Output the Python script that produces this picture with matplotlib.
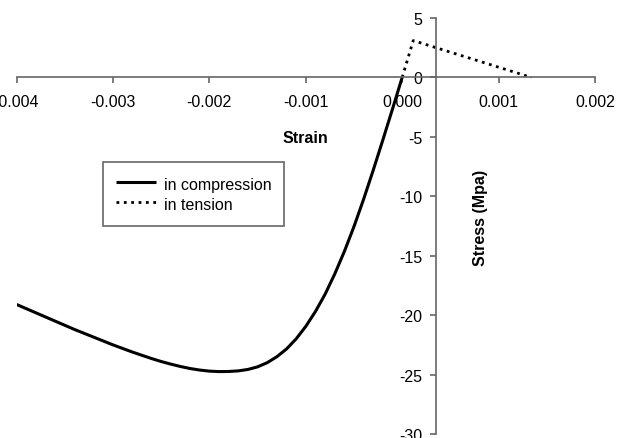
import matplotlib
matplotlib.use('Agg')
import matplotlib.pyplot as plt

# Datos: curva tensión-deformación del hormigón
strain_comp = [-0.0040, -0.0038, -0.0036, -0.0034, -0.0032, -0.0030, -0.0028,
               -0.0026, -0.0025, -0.0024, -0.0023, -0.0022, -0.0021, -0.0020,
               -0.0019, -0.0018, -0.0017, -0.0016, -0.0015, -0.0014, -0.0013,
               -0.0012, -0.0011, -0.0010, -0.0009, -0.0008, -0.0007, -0.0006,
               -0.0005, -0.0004, -0.0003, -0.0002, -0.0001, 0.0]
stress_comp = [-19.1, -19.8, -20.5, -21.2, -21.85, -22.5, -23.1,
               -23.65, -23.9, -24.12, -24.32, -24.49, -24.62, -24.71,
               -24.75, -24.74, -24.69, -24.57, -24.35, -24.0, -23.5,
               -22.85, -22.0, -20.95, -19.7, -18.25, -16.55, -14.65,
               -12.55, -10.25, -7.8, -5.25, -2.65, 0.0]

strain_tens = [0.0, 0.000115, 0.00134]
stress_tens = [0.0, 3.1, 0.0]

x_ticks = [-0.004, -0.003, -0.002, -0.001, 0.0, 0.001, 0.002]
x_labels = ['-0.004', '-0.003', '-0.002', '-0.001', '0.000', '0.001', '0.002']
y_ticks = [-30, -25, -20, -15, -10, -5, 0, 5]

AXIS_COLOR = '#666666'
FONT = 'Liberation Sans'

plt.rcParams['font.family'] = FONT
plt.rcParams['axes.unicode_minus'] = False

fig = plt.figure(figsize=(6.17, 4.39), dpi=100)
ax = fig.add_axes([16.5 / 617, 4 / 439, 578.5 / 617, 416 / 439])

ax.plot(strain_comp, stress_comp, color='black', linewidth=2.2,
        solid_capstyle='butt', label='in compression')
ax.plot(strain_tens, stress_tens, color='black', linewidth=2.0,
        linestyle=':', label='in tension')

ax.set_xlim(-0.004, 0.002)
ax.set_ylim(-30, 5)

# Ejes cruzando en el interior del gráfico
ax.spines['top'].set_visible(False)
ax.spines['right'].set_visible(False)
ax.spines['bottom'].set_position(('data', 0))
ax.spines['left'].set_position(('data', 0.00035))
for s in ('bottom', 'left'):
    ax.spines[s].set_color(AXIS_COLOR)
    ax.spines[s].set_linewidth(1.2)

ax.set_xticks(x_ticks)
ax.set_xticklabels(x_labels)
ax.set_yticks(y_ticks)
ax.tick_params(axis='x', direction='out', length=4, width=1.2, color=AXIS_COLOR,
               pad=8, labelsize=11.5)
ax.tick_params(axis='y', direction='out', length=4, width=1.2, color=AXIS_COLOR,
               pad=5.5, labelsize=11.5)

ax.set_xlabel('Strain', fontsize=11.5, fontweight='bold')
ax.xaxis.set_label_coords(0.5, 0.712)
ax.xaxis.label.set_verticalalignment('center')

ax.set_ylabel('Stress (Mpa)', fontsize=11.5, fontweight='bold')
ax.yaxis.set_label_coords(0.8026, 0.521)
ax.yaxis.label.set_horizontalalignment('center')
ax.yaxis.label.set_verticalalignment('center')

leg = ax.legend(loc='upper left', bbox_to_anchor=(103 / 617, 1 - 163 / 439),
                bbox_transform=fig.transFigure, borderaxespad=0,
                fancybox=False, framealpha=1, edgecolor=AXIS_COLOR,
                fontsize=11.5, handlelength=2.5, handletextpad=0.5,
                handleheight=1.3, labelspacing=0.2, borderpad=0.8)
leg.get_frame().set_linewidth(1.2)

fig.savefig('out.png', dpi=100)
plt.close()
